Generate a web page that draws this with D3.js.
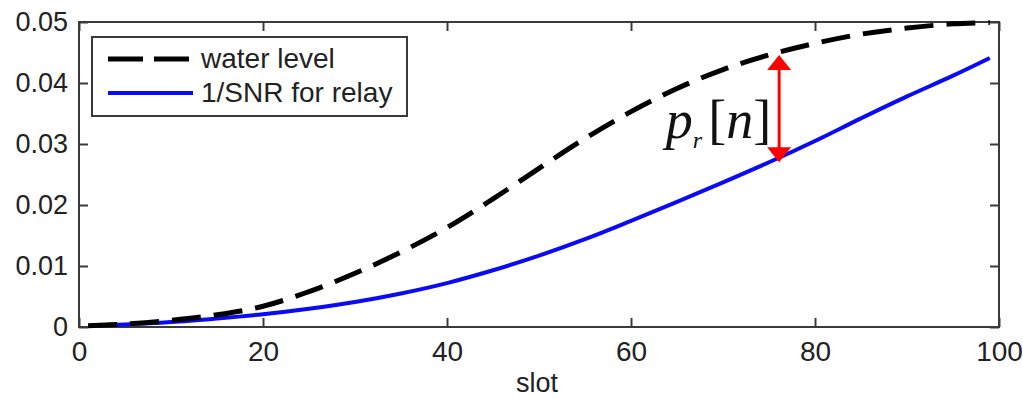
<!DOCTYPE html>
<html>
<head>
<meta charset="utf-8">
<script src="https://cdn.jsdelivr.net/npm/d3@7"></script>
<style>
  body { margin: 0; background: #fff; }
  text { font-family: "Liberation Sans", Arial, sans-serif; }
</style>
</head>
<body>
<svg id="chart" width="1023" height="399"></svg>
<script>
const slots = [1, 5, 10, 15, 20, 25, 30, 35, 40, 45, 50, 55, 60, 65, 70, 75, 80, 85, 90, 95, 99];
const waterLevel = [0.0002, 0.0005, 0.0011, 0.0020, 0.0034, 0.0058, 0.0088, 0.0123, 0.0163, 0.0210, 0.0260,
    0.0309, 0.0353, 0.0391, 0.0422, 0.0446, 0.0465, 0.0480, 0.0490, 0.0497, 0.0499];
const invSnrRelay = [0.0002, 0.0004, 0.0008, 0.0014, 0.0021, 0.0030, 0.0041, 0.0055, 0.0072, 0.0093, 0.0117,
    0.0144, 0.0174, 0.0205, 0.0237, 0.0270, 0.0305, 0.0342, 0.0378, 0.0412, 0.0441];
const xTicks = [0, 20, 40, 60, 80, 100];
const yTicks = [0, 0.01, 0.02, 0.03, 0.04, 0.05];
const seriesNames = ["water level", "1/SNR for relay"];
// annotation: arrow between the two curves
const arrowSlot = 76.1;
const arrowTop = 0.0446;
const arrowBottom = 0.0270;

const svg = d3.select('#chart');
const m = { left: 79, right: 999, top: 22, bottom: 327 };

const x = d3.scaleLinear().domain([0, 100]).range([m.left, m.right]);
const y = d3.scaleLinear().domain([0, 0.05]).range([m.bottom, m.top]);

const axisColor = '#3a3a3a';

// frame
svg.append('rect')
    .attr('x', m.left).attr('y', m.top)
    .attr('width', m.right - m.left).attr('height', m.bottom - m.top)
    .attr('fill', 'none').attr('stroke', axisColor).attr('stroke-width', 2);

const fmtY = (d) => d === 0 ? '0' : d.toFixed(2);

const xAxis = svg.append('g')
    .attr('transform', `translate(0,${m.bottom})`)
    .call(d3.axisBottom(x).tickValues(xTicks).tickSize(-9).tickPadding(14).tickSizeOuter(0));
const xTop = svg.append('g')
    .attr('transform', `translate(0,${m.top})`)
    .call(d3.axisTop(x).tickValues(xTicks).tickSize(-9).tickFormat('').tickSizeOuter(0));
const yAxis = svg.append('g')
    .attr('transform', `translate(${m.left},0)`)
    .call(d3.axisLeft(y).tickValues(yTicks).tickSize(-9).tickPadding(11).tickFormat(fmtY).tickSizeOuter(0));
const yRight = svg.append('g')
    .attr('transform', `translate(${m.right},0)`)
    .call(d3.axisRight(y).tickValues(yTicks).tickSize(-9).tickFormat('').tickSizeOuter(0));

[xAxis, xTop, yAxis, yRight].forEach((g) => {
    g.select('.domain').remove();
    g.selectAll('line').attr('stroke', axisColor).attr('stroke-width', 2);
    g.selectAll('text')
        .attr('fill', '#222')
        .style('font-family', '"Liberation Sans", Arial, sans-serif');
});
xAxis.selectAll('text').style('font-size', '28px');
yAxis.selectAll('text').style('font-size', '27px');

svg.append('text')
    .attr('x', (m.left + m.right) / 2 - 2)
    .attr('y', 392)
    .attr('text-anchor', 'middle')
    .attr('fill', '#222')
    .style('font-size', '27px')
    .text('slot');

const line = (vals) => d3.line()
    .x((d, i) => x(slots[i]))
    .y((d) => y(d))
    .curve(d3.curveCatmullRom.alpha(0.5))(vals);

svg.append('path')
    .attr('d', line(invSnrRelay))
    .attr('fill', 'none')
    .attr('stroke', '#0a0af5')
    .attr('stroke-width', 4);

svg.append('path')
    .attr('d', line(waterLevel))
    .attr('fill', 'none')
    .attr('stroke', '#000')
    .attr('stroke-width', 5)
    .attr('stroke-dasharray', '29,13');

// red double arrow
const ax = x(arrowSlot);
const yT = y(arrowTop), yB = y(arrowBottom);
const head = 15, hw = 12;
svg.append('line')
    .attr('x1', ax).attr('x2', ax)
    .attr('y1', yT + head - 2).attr('y2', yB - head + 2)
    .attr('stroke', '#f00').attr('stroke-width', 3);
svg.append('path')
    .attr('d', `M${ax},${yT}L${ax + hw},${yT + head}L${ax - hw},${yT + head}Z`)
    .attr('fill', '#f00');
svg.append('path')
    .attr('d', `M${ax},${yB}L${ax + hw},${yB - head}L${ax - hw},${yB - head}Z`)
    .attr('fill', '#f00');

const lbl = svg.append('text')
    .attr('x', ax - 8)
    .attr('y', 138)
    .attr('text-anchor', 'end')
    .attr('fill', '#111')
    .style('font-family', '"Liberation Serif", "Times New Roman", serif')
    .style('font-size', '54px');
lbl.append('tspan').style('font-style', 'italic').text('p');
lbl.append('tspan').style('font-style', 'italic').style('font-size', '24px').attr('dy', 10).text('r');
lbl.append('tspan').attr('dy', -10).attr('dx', 6).text('[');
lbl.append('tspan').style('font-style', 'italic').text('n');
lbl.append('tspan').text(']');

// legend
const legend = svg.append('g');
legend.append('rect')
    .attr('x', 92).attr('y', 37)
    .attr('width', 315).attr('height', 79)
    .attr('fill', '#fff').attr('stroke', axisColor).attr('stroke-width', 2);
const legendRows = [
    { color: '#000', width: 5, dash: '35,11', y: 59 },
    { color: '#0a0af5', width: 4, dash: null, y: 93 }
];
legendRows.forEach((r, i) => {
    legend.append('line')
        .attr('x1', 108).attr('x2', 193)
        .attr('y1', r.y).attr('y2', r.y)
        .attr('stroke', r.color).attr('stroke-width', r.width)
        .attr('stroke-dasharray', r.dash);
    legend.append('text')
        .attr('x', 201)
        .attr('y', r.y + 9)
        .attr('fill', '#222')
        .style('font-size', '28px')
        .text(seriesNames[i]);
});
</script>
</body>
</html>
